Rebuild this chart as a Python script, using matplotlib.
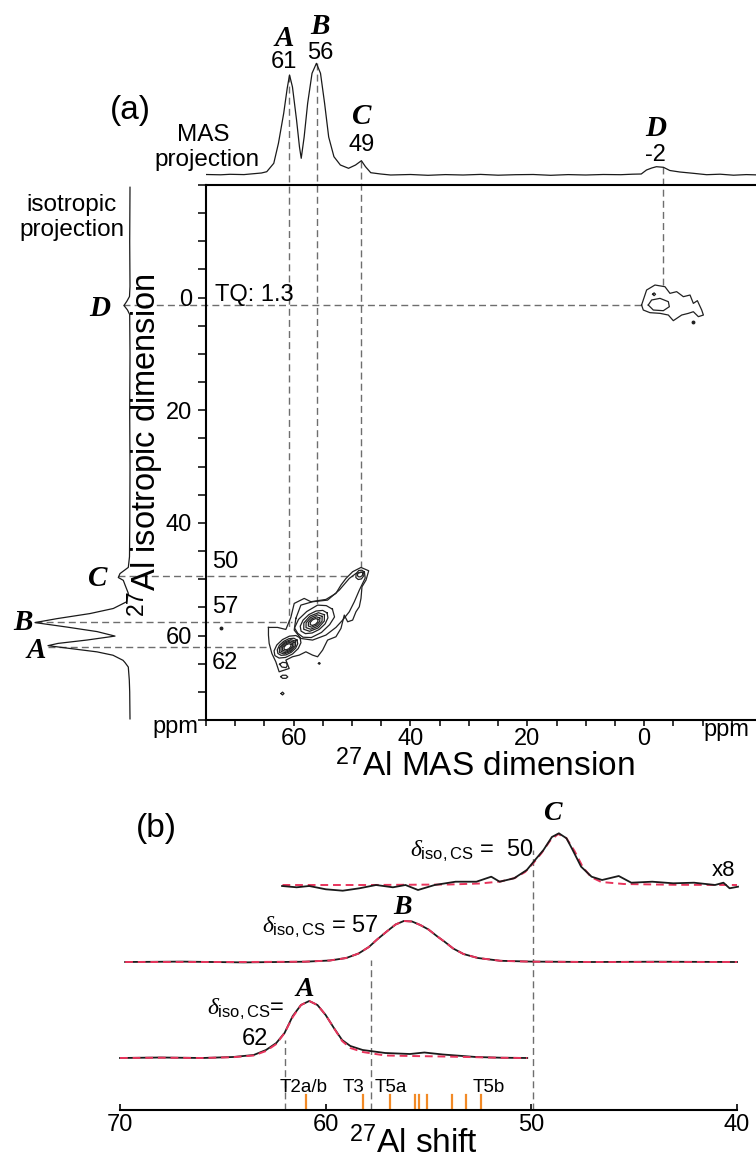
import matplotlib
matplotlib.use("Agg")
import matplotlib.pyplot as plt
from matplotlib.ticker import MultipleLocator

plt.rcParams['font.family'] = ['Liberation Sans', 'DejaVu Sans']
plt.rcParams['mathtext.fontset'] = 'custom'
plt.rcParams['mathtext.rm'] = 'Liberation Sans'
plt.rcParams['mathtext.it'] = 'Liberation Serif:italic'

# ---------------- (a) 1D projections ----------------
mas_ppm = [75, 72.5, 70.9, 68.5, 67.4, 65.5, 64.6, 63.4, 62.6, 61.7,
           61.1, 60.7, 60.2, 59.5, 59.0, 58.7, 58.2, 57.6, 56.85, 56.1,
           55.4, 54.7, 54.0, 53.1, 52.0, 50.6, 49.4, 48.4, 47.7, 46.8,
           45.1, 43.4, 40, 37, 34, 31, 28, 25, 22, 19,
           16, 13, 10, 7, 4, 2, 0.5, -0.4, -1.3, -2.1,
           -3.3, -4.4, -6.1, -8.4, -10.7, -13, -15.3, -17.5, -20]
mas_int = [0.5, 0.2, 0.7, 0.4, 1, 2, 3.3, 11.7, 31.7, 61.7,
           86.7, 100, 88, 55, 28, 16.7, 38, 71.7, 101.7, 111.7,
           101.7, 71.7, 38, 18.3, 10, 6.7, 10, 14.3, 8.3, 2.3,
           1, 0, 0.5, -0.3, 0.4, 0, 0.6, -0.2, 0.3, 0.5,
           -0.3, 0.4, 0, 0.5, 0.3, 0.8, 1, 5, 7, 8.3,
           7.7, 4.5, 3, 1.7, 0.3, 0.8, -0.2, 0.4, 0]

iso_ppm = [-19.6, -10, -2, -0.2, 0.6, 1.4, 2.2, 3, 10, 20,
           30, 40, 46, 47.9, 49.0, 49.7, 50.2, 51.0, 52.5, 54.0,
           55.2, 56.1, 57.0, 57.7, 58.5, 59.3, 60.1, 60.8, 61.4, 61.8,
           62.3, 62.9, 63.5, 64.4, 64.8, 65.6, 67.9, 70, 74.8]
iso_int = [0, 0.3, 0, 0.5, 3, 6, 2.5, 0.3, 0, 0.3,
           0, 0.2, 0.5, 1.7, 10, 11.7, 6.7, 5, 1.7, 3.3,
           16.7, 40, 73, 95, 63, 33, 15, 43, 72, 82,
           60, 33, 17, 7, 5, 1.7, 0.7, 0.3, 0]

# ---------------- (a) 2D contour rings: (MAS ppm, isotropic ppm) ----------------
cont_outer = [(64.31, 58.56), (62.76, 58.56), (61.33, 58.92), (60.48, 56.79), (59.90, 54.30),
              (58.19, 53.41), (57.04, 54.00), (54.47, 53.59), (52.76, 52.52), (51.90, 51.04),
              (51.04, 49.86), (49.90, 48.67), (48.47, 47.91), (47.15, 48.50), (47.61, 50.16),
              (48.30, 51.34), (48.47, 53.41), (48.76, 54.89), (49.33, 55.78), (49.90, 57.26),
              (50.75, 57.56), (51.33, 56.37), (51.90, 58.74), (52.76, 60.22), (54.19, 60.81),
              (55.04, 62.59), (55.90, 63.77), (56.76, 63.48), (57.90, 62.89), (59.05, 63.48),
              (60.19, 63.77), (61.33, 64.37), (60.76, 65.85), (62.48, 66.44), (63.05, 64.66),
              (63.73, 63.18), (64.19, 61.40), (64.31, 59.92)]

cont_ridge = [(59.62, 56.96), (58.76, 54.60), (56.76, 54.00), (54.19, 53.71), (52.18, 51.93),
              (50.47, 49.86), (49.32, 48.97), (47.89, 48.67), (47.75, 49.80), (48.75, 51.93),
              (49.61, 54.00), (50.47, 55.78), (51.61, 57.26), (52.76, 58.56), (54.47, 59.92),
              (56.76, 60.81), (58.76, 60.52), (59.90, 59.04)]

cont_A = [
    [(60.46, 61.57), (60.47, 61.94), (60.81, 62.35), (61.30, 62.55), (61.64, 62.43),
     (61.63, 62.06), (61.29, 61.65), (60.80, 61.45)],
    [(60.20, 61.38), (60.21, 61.92), (60.71, 62.50), (61.41, 62.79), (61.90, 62.62),
     (61.89, 62.08), (61.39, 61.50), (60.69, 61.21)],
    [(59.94, 61.19), (59.95, 61.89), (60.60, 62.66), (61.52, 63.04), (62.16, 62.81),
     (62.15, 62.11), (61.50, 61.34), (60.58, 60.96)],
    [(59.67, 61.00), (59.69, 61.87), (60.50, 62.81), (61.63, 63.28), (62.43, 63.00),
     (62.41, 62.13), (61.60, 61.19), (60.47, 60.72)],
    [(59.41, 60.81), (59.30, 61.45), (59.66, 62.25), (60.39, 62.97), (61.30, 63.44), (62.14, 63.52),
     (62.69, 63.19), (62.80, 62.55), (62.44, 61.75), (61.71, 61.03), (60.80, 60.56), (59.96, 60.48)],
    [(58.89, 60.43), (58.75, 61.28), (59.22, 62.32), (60.19, 63.28), (61.38, 63.89), (62.49, 64.00),
     (63.21, 63.57), (63.35, 62.72), (62.88, 61.68), (61.91, 60.72), (60.72, 60.11), (59.61, 60.00)],
    [(62.4, 65.1), (62.0, 65.6), (61.3, 65.7), (61.1, 65.35), (61.2, 64.85), (61.9, 64.75)],
]

cont_B = [
    [(55.85, 57.12), (55.85, 57.54), (56.24, 57.99), (56.78, 58.21), (57.16, 58.08),
     (57.15, 57.66), (56.76, 57.21), (56.22, 56.99)],
    [(55.52, 56.89), (55.53, 57.51), (56.11, 58.18), (56.92, 58.52), (57.48, 58.31),
     (57.47, 57.69), (56.89, 57.02), (56.08, 56.68)],
    [(55.12, 56.60), (55.14, 57.47), (55.95, 58.41), (57.08, 58.88), (57.88, 58.60),
     (57.86, 57.73), (57.05, 56.79), (55.92, 56.32)],
    [(54.73, 56.31), (54.75, 57.43), (55.79, 58.65), (57.25, 59.25), (58.27, 58.89),
     (58.25, 57.77), (57.21, 56.55), (55.75, 55.95)],
    [(54.27, 55.98), (54.13, 56.86), (54.61, 57.93), (55.61, 58.92), (56.84, 59.55), (57.98, 59.66),
     (58.73, 59.22), (58.87, 58.34), (58.39, 57.27), (57.39, 56.28), (56.16, 55.65), (55.02, 55.54)],
    [(53.36, 55.32), (53.0, 56.7), (53.84, 58.07), (55.24, 59.46), (56.98, 60.36), (58.4, 60.3),
     (59.3, 59.6), (59.85, 58.65), (59.16, 57.13), (57.76, 55.74), (55.9, 54.6), (54.41, 54.69)],
]

cont_C = [
    [(48.15, 48.95), (48.25, 49.35), (48.6, 49.6), (48.95, 49.55), (49.1, 49.25),
     (48.95, 48.9), (48.6, 48.75), (48.3, 48.75)],
    [(47.95, 48.7), (48.0, 49.4), (48.4, 49.95), (48.95, 50.05), (49.35, 49.7),
     (49.3, 49.0), (48.85, 48.45), (48.3, 48.4)],
]

cont_D = [
    [(0.44, 1.31), (-0.42, -1.35), (-1.85, -2.24), (-3.56, -1.94), (-4.42, -0.76), (-5.56, -1.06),
     (-6.71, -0.17), (-7.85, -0.46), (-8.42, 1.02), (-9.11, 0.54), (-9.85, 2.20), (-10.14, 3.09),
     (-9.28, 3.38), (-8.42, 2.50), (-7.57, 2.79), (-6.42, 3.09), (-4.99, 4.09), (-4.14, 3.09),
     (-2.71, 2.79), (-0.99, 2.67), (0.15, 2.20)],
    [(-0.70, 1.31), (-1.28, 0.42), (-2.71, 0.13), (-4.14, 0.72), (-4.31, 1.61), (-3.28, 2.32),
     (-1.56, 2.20)],
    [(-1.45, -0.6), (-1.7, -0.35), (-1.95, -0.6), (-1.7, -0.85)],
]

cont_islands = [
    [(62.2, 67.3), (61.9, 67.6), (61.3, 67.6), (61.0, 67.35), (61.3, 67.05), (61.9, 67.05)],
    [(62.15, 70.3), (61.9, 70.55), (61.65, 70.3), (61.9, 70.05)],
    [(55.75, 64.95), (55.6, 65.1), (55.45, 64.95), (55.6, 64.8)],
]
noise_dots_x = [72.5, -8.42]
noise_dots_y = [58.7, 4.27]

# guide lines: vertical (MAS ppm, iso from, iso to); horizontal (iso ppm, MAS from, MAS to)
v_guides = [(60.8, -39.5, 58.9), (56.0, -41.7, 54.4), (48.4, -24.3, 47.9), (-3.3, -23.2, -1.5)]
h_guides = [(62.0, 102.1, 64.0), (57.6, 104.3, 60.3), (49.4, 90.1, 49.9), (1.3, 89.2, 0.4)]

# ---------------- (b) slices ----------------
bA_ppm = [70, 68, 66, 64.5, 63.5, 62.9, 62.4, 62.0, 61.6, 61.2, 60.8, 60.4,
          60.0, 59.6, 59.2, 58.8, 58.2, 57.1, 55.9, 55.2, 54.3, 52.7, 51.5, 50.2]
bA_obs = [0, 0.5, 0, 1, 3, 8, 15, 25, 42, 53, 57, 53,
          43, 30, 18, 12, 8, 5, 4, 5.5, 3.5, 1, 0.3, 0]
bA_fit = [0, 0.3, 0, 0.8, 2.5, 7, 14, 25, 41, 53, 57, 53,
          43, 30, 17, 10, 6, 2.5, 2, 1.8, 1.5, 0.8, 0.2, 0]

bB_ppm = [69.75, 67, 64, 61, 59.8, 59.0, 58.4, 57.9, 57.5, 57.0, 56.6, 56.2, 55.8,
          55.4, 55.0, 54.6, 54.2, 53.8, 53.3, 52.6, 51.5, 50, 47, 44, 40]
bB_obs = [0, 0.4, -0.4, 0.3, 1.5, 4, 8.5, 15, 22.5, 31, 37.5, 41, 40.5,
          37, 32.5, 26, 20, 13.5, 8, 4, 1.2, 0.4, 0, 0.3, 0]
bB_fit = [0, 0, 0, 0.3, 1.5, 4, 8.5, 15, 22.5, 31, 37.5, 41, 40.5,
          37, 32.5, 26, 20, 13.5, 8, 4, 1.2, 0.3, 0, 0, 0]

bC_ppm = [62.12, 61.41, 60.80, 59.99, 59.17, 58.36, 57.55, 56.73, 56.12, 55.51, 54.70, 53.68,
          52.67, 51.95, 51.54, 50.84, 50.22, 49.82, 49.41, 49.0, 48.66, 48.29, 47.99, 47.58,
          47.07, 46.56, 45.75, 45.14, 44.12, 43.10, 42.09, 41.07, 40.66, 40.36, 39.95]
bC_obs = [0, -1.3, 0, -3.3, -4.7, -2.3, 1, -1.3, 1, -4, 1, 4.3,
          4.3, 9.3, 4.3, 7.7, 16, 26, 36, 49, 52.7, 47.7, 36, 19.3,
          9.3, 6, 10, 3.3, 4.3, 2.7, 3.3, 1, 3.3, -2.3, -0.7]
bC_fit_ppm = [62.1, 58, 54, 52.5, 51.5, 50.8, 50.3, 49.9, 49.5, 49.1, 48.7, 48.3,
              47.9, 47.5, 47.1, 46.6, 45.5, 43, 40]
bC_fit = [1, 1, 1.5, 2.5, 4.5, 8, 14, 23, 33, 45, 52, 48,
          35, 19, 9, 4, 2, 1.2, 1]

t_sites_ppm = [60.94, 58.20, 56.87, 55.68, 55.47, 55.05, 53.88, 53.17, 52.46]
t_labels = ['T2a/b', 'T3', 'T5a', 'T5b']
t_label_ppm = [61.05, 58.67, 56.83, 52.06]
b_guides = [(62.0, 70), (57.8, 150), (49.9, 260)]

# vertical placement of the three slices in panel (b)
OFF_A, OFF_B, OFF_C = 52, 148, 224

W, H = 756, 1160
BLACK = '#1a1a1a'
RED = '#e8345c'
ORANGE = '#f28a26'
GUIDE = '#6e6e6e'
DASH = (0, (5, 3))
SERIF = dict(family='Liberation Serif', weight='bold', style='italic')


def box(x0, y0, x1, y1):
    return [x0 / W, 1 - y1 / H, (x1 - x0) / W, (y1 - y0) / H]


def ftext(x, y, s, **kw):
    fig.text(x / W, 1 - y / H, s, **kw)


def ring(ax, pts, **kw):
    xs = [p[0] for p in pts] + [pts[0][0]]
    ys = [p[1] for p in pts] + [pts[0][1]]
    ax.plot(xs, ys, **kw)


fig = plt.figure(figsize=(7.56, 11.6), dpi=100)

# ---- 2D map ----
ax2d = fig.add_axes(box(206, 185, 761, 720))
ax2d.set_xlim(75, -20)
ax2d.set_ylim(75, -20)
ckw = dict(color='#222222', lw=0.9)
ring(ax2d, cont_outer, **ckw)
ring(ax2d, cont_ridge, **ckw)
for group in (cont_A, cont_B, cont_C, cont_D, cont_islands):
    for r in group:
        ring(ax2d, r, **ckw)
ax2d.plot(noise_dots_x, noise_dots_y, 'o', ms=1.8, color='#222222')

gkw = dict(color=GUIDE, lw=1.0, linestyle=DASH, clip_on=False, zorder=1)
for x, y0, y1 in v_guides:
    ax2d.plot([x, x], [y0, y1], **gkw)
for y, x0, x1 in h_guides:
    ax2d.plot([x0, x1], [y, y], **gkw)

ax2d.set_xticks([60, 40, 20, 0])
ax2d.set_yticks([0, 20, 40, 60])
ax2d.xaxis.set_minor_locator(MultipleLocator(5))
ax2d.yaxis.set_minor_locator(MultipleLocator(5))
ax2d.tick_params(axis='x', which='both', direction='out', length=4, width=1.1,
                 labelsize=17, pad=2)
ax2d.tick_params(axis='y', which='both', direction='out', length=6, width=1.1,
                 labelsize=17, pad=4)
for s in ax2d.spines.values():
    s.set_linewidth(1.5)

ax2d.text(73.5, -0.5, 'TQ: 1.3', fontsize=17, ha='left', va='center')
for lab, yv in (('50', 47.0), ('57', 55.0), ('62', 64.9)):
    ax2d.text(74.0, yv, lab, fontsize=17, ha='left', va='center')

# ---- MAS projection (top) ----
ax_mas = fig.add_axes(box(206, 0, 761, 185))
ax_mas.set_xlim(75, -20)
ax_mas.set_ylim(-10, 175)
ax_mas.axis('off')
ax_mas.patch.set_visible(False)
ax_mas.plot(mas_ppm, mas_int, color=BLACK, lw=0.9)
for letter, shift, x, yl, ys in (('A', '61', 61.6, 136, 113), ('B', '56', 55.5, 148, 122),
                                 ('C', '49', 48.3, 58, 30), ('D', '-2', -1.9, 47, 20)):
    ax_mas.text(x, yl, letter, fontsize=21, ha='center', va='center', **SERIF)
    ax_mas.text(x, ys, shift, fontsize=17, ha='center', va='center')

# ---- isotropic projection (left) ----
ax_iso = fig.add_axes(box(0, 185, 140, 720))
ax_iso.set_xlim(130, -10)
ax_iso.set_ylim(75, -20)
ax_iso.axis('off')
ax_iso.patch.set_visible(False)
ax_iso.plot(iso_int, iso_ppm, color=BLACK, lw=0.9)

ftext(130, 110, '(a)', fontsize=24, ha='center', va='center')
ftext(203, 135, 'MAS', fontsize=17.5, ha='center', va='center')
ftext(207, 160, 'projection', fontsize=17.5, ha='center', va='center')
ftext(72, 205, 'isotropic', fontsize=17.5, ha='center', va='center')
ftext(72, 230, 'projection', fontsize=17.5, ha='center', va='center')
for letter, x, y in (('D', 100, 308), ('C', 98, 578), ('B', 23, 623), ('A', 36, 650)):
    ftext(x, y, letter, fontsize=21, ha='center', va='center', **SERIF)
ftext(175, 727, 'ppm', fontsize=17, ha='center', va='center')
ftext(726, 730, 'ppm', fontsize=17, ha='center', va='center')
ftext(485, 767, r'$^{27}$Al MAS dimension', fontsize=24, ha='center', va='center')
ftext(146, 445, r'$^{27}$Al isotropic dimension', fontsize=23.5, ha='center', va='center',
      rotation=90)

# ---- (b) slices ----
ax_b = fig.add_axes(box(120, 800, 737, 1110))
ax_b.set_xlim(70, 40)
ax_b.set_ylim(0, 310)
ax_b.patch.set_visible(False)
for k in ('top', 'left', 'right'):
    ax_b.spines[k].set_visible(False)
ax_b.spines['bottom'].set_linewidth(1.5)
ax_b.set_yticks([])
ax_b.set_xticks([70, 60, 50, 40])
ax_b.tick_params(axis='x', direction='in', length=4, width=1.2, labelsize=17, pad=3)

for x, top in b_guides:
    ax_b.plot([x, x], [0, top], color=GUIDE, lw=1.0, linestyle=DASH)

ax_b.plot(bA_ppm, [v + OFF_A for v in bA_obs], color=BLACK, lw=1.3, clip_on=False)
ax_b.plot(bA_ppm, [v + OFF_A for v in bA_fit], color=RED, lw=1.4, ls=(0, (4, 2.5)), clip_on=False)
ax_b.plot(bB_ppm, [v + OFF_B for v in bB_obs], color=BLACK, lw=1.3, clip_on=False)
ax_b.plot(bB_ppm, [v + OFF_B for v in bB_fit], color=RED, lw=1.4, ls=(0, (4, 2.5)), clip_on=False)
ax_b.plot(bC_fit_ppm, [v + OFF_C for v in bC_fit], color=RED, lw=1.4, ls=(0, (4, 2.5)), clip_on=False)
ax_b.plot(bC_ppm, [v + OFF_C for v in bC_obs], color=BLACK, lw=1.3, clip_on=False)

for x in t_sites_ppm:
    ax_b.plot([x, x], [0, 15], color=ORANGE, lw=1.6)
for lab, x in zip(t_labels, t_label_ppm):
    ax_b.text(x, 23, lab, fontsize=13.5, ha='center', va='center')

ax_b.text(49.0, 296, 'C', fontsize=20, ha='center', va='center', **SERIF)
ax_b.text(56.24, 202, 'B', fontsize=20, ha='center', va='center', **SERIF)
ax_b.text(61.0, 121, 'A', fontsize=20, ha='center', va='center', **SERIF)
ax_b.text(49.92, 253, r'$\delta_{\mathrm{iso,CS}}$ =  50', fontsize=17, ha='right', va='baseline')
ax_b.text(57.46, 177, r'$\delta_{\mathrm{iso,CS}}$ = 57', fontsize=17, ha='right', va='baseline')
ax_b.text(62.03, 95, r'$\delta_{\mathrm{iso,CS}}$=', fontsize=17, ha='right', va='baseline')
ax_b.text(63.44, 71, '62', fontsize=17, ha='center', va='center')
ax_b.text(40.66, 240, 'x8', fontsize=16, ha='center', va='center')

ftext(156, 828, '(b)', fontsize=24, ha='center', va='center')
ftext(413, 1144, r'$^{27}$Al shift', fontsize=24, ha='center', va='center')

fig.savefig('out.png', dpi=100)
